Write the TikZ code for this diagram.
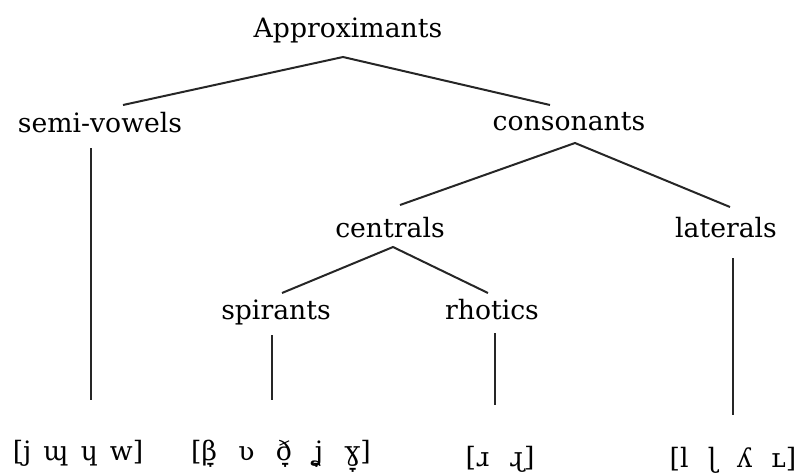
\documentclass[tikz,border=0pt]{standalone}
\usepackage{fontspec}
\setmainfont{DejaVu Serif}
\usepackage{tikz}

\newcommand{\gap}[1]{\hspace{#1pt}}

\begin{document}
\begin{tikzpicture}[x=0.75pt,y=-0.75pt,
  every node/.style={anchor=base,inner sep=0pt,font=\fontsize{20}{24}\selectfont},
  branch/.style={line width=1.5pt,draw=black!85}]
\useasboundingbox (0,0) rectangle (800,475);
% category labels
\node(approx) at (348,37){Approximants};
\node(semi) at (100,132){semi-vowels};
\node(cons) at (569,130){consonants};
\node(cent) at (390,237){centrals};
\node(lat) at (726,237){laterals};
\node(spir) at (276,319){spirants};
\node(rhot) at (492,319){rhotics};
% sound lists
\node(jw) at (78,460){[j\gap{9}ɰ\gap{9}ɥ\gap{9}w]};
\node(bv) at (281,460){[β̞\gap{16}ʋ\gap{16}ð̞\gap{16}ʝ̞\gap{16}ɣ̞]};
\node(rr) at (500,466){[ɹ\gap{15}ɻ]};
\node(ll) at (733,467){[l\gap{14.5}ɭ\gap{14.5}ʎ\gap{14.5}ʟ]};
% branch points
\coordinate(approxfoot) at (343,57);
\coordinate(semitop) at (123,105);
\coordinate(constop) at (550,105);
\coordinate(consfoot) at (575,143);
\coordinate(centtop) at (400,205);
\coordinate(lattop) at (730,207);
\coordinate(centfoot) at (393,247);
\coordinate(spirtop) at (282,293);
\coordinate(rhottop) at (488,293);
\coordinate(semifoot) at (91,148);
\coordinate(jwtop) at (91,400);
\coordinate(spirfoot) at (272,335);
\coordinate(bvtop) at (272,400);
\coordinate(rhotfoot) at (495,333);
\coordinate(rrtop) at (495,405);
\coordinate(latfoot) at (733,258);
\coordinate(lltop) at (733,415);
\draw[branch](semitop) -- (approxfoot) -- (constop);
\draw[branch](centtop) -- (consfoot) -- (lattop);
\draw[branch](spirtop) -- (centfoot) -- (rhottop);
\draw[branch](semifoot) -- (jwtop);
\draw[branch](spirfoot) -- (bvtop);
\draw[branch](rhotfoot) -- (rrtop);
\draw[branch](latfoot) -- (lltop);
\end{tikzpicture}
\end{document}
